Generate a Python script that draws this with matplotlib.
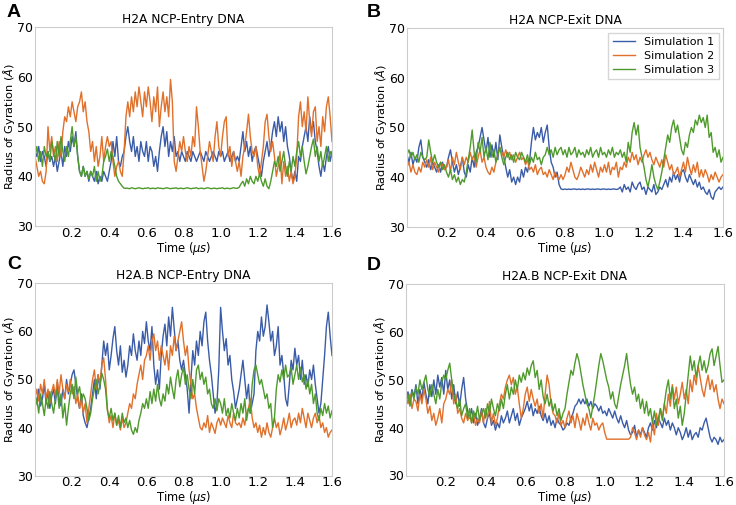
import numpy as np
import matplotlib
matplotlib.use("Agg")
import matplotlib.pyplot as plt

# Time axis (microseconds), sampled every 0.01 us
time_us = np.round(np.arange(161) * 0.01, 2)

# ---------------- Panel A: H2A NCP-Entry DNA ----------------
a_sim1 = [45, 44, 46, 43, 45, 44, 42, 45, 43, 44,
          42, 44, 41, 43, 45, 42, 46, 44, 47, 45,
          48, 46, 49, 44, 41, 40, 42, 40, 41, 39,
          41, 40, 39, 41, 38.5, 40, 39, 41, 40, 39,
          41, 43, 47, 44, 48, 43, 42, 44, 45, 48,
          50, 47, 45, 48, 44, 46, 43, 47, 45, 44,
          47, 43, 46, 45, 42, 44, 41, 45, 48, 50,
          46, 49, 44, 47, 45, 48, 44, 45, 43, 45,
          44, 43, 45, 44, 43, 45, 44, 43, 44, 45,
          44, 43, 45, 44, 43, 44, 45, 44, 43, 45,
          44, 45, 43, 44, 45, 43, 44, 45, 43, 44,
          43, 46, 49, 45, 47, 44, 46, 43, 45, 46,
          44, 42, 40, 43, 45, 47, 44, 46, 49, 51,
          48, 52, 49, 51, 47, 50, 46, 44, 41, 39,
          41, 39, 44, 43, 46, 48, 50, 47, 52, 49,
          51, 47, 45, 42, 40, 43, 41, 44, 46, 43,
          45]
a_sim2 = [44, 42, 40, 41, 39, 38.5, 41, 50, 45, 48,
          44, 46, 43, 47, 44, 49, 52, 51, 54, 52,
          55, 53, 51, 54, 55, 57, 53, 55, 51, 49,
          45, 47, 43, 46, 42, 44, 48, 43, 46, 48,
          46, 47, 43, 40, 42, 43, 41, 40, 45, 52,
          55, 52, 56, 53, 57, 54, 58, 55, 52, 57,
          54, 58, 55, 51, 56, 53, 58, 50, 54, 57,
          53, 56, 52, 59.5, 55, 43, 41, 44, 47, 45,
          48, 45, 43, 46, 44, 48, 46, 54, 50, 45,
          42, 39, 41, 44, 47, 45, 43, 48, 51, 46,
          44, 48, 51, 52, 44, 46, 42, 45, 43, 41,
          43, 40, 44, 46, 49, 52.5, 48, 45, 44, 46,
          42, 40, 43, 46, 51, 52.5, 48, 45, 47, 44,
          40, 42, 45, 38.5, 43, 40, 42, 39, 41, 38.5,
          40, 44, 52, 55, 50, 53, 49, 56, 51, 48,
          53, 54, 47, 50, 46, 52, 49, 54, 56, 52,
          47]
a_sim3 = [44, 46, 43, 45, 42, 46, 44, 45, 43, 47,
          45, 43, 47, 44, 48, 45, 43, 46, 44, 47,
          50, 46, 48, 44, 41, 40, 42, 40, 41, 39.5,
          41, 40, 42, 39, 41, 39, 40, 43, 44, 45.5,
          43, 45, 44, 42, 40, 39, 38.5, 38, 37.6, 37.6,
          37.6, 37.5, 37.7, 37.6, 37.5, 37.6, 37.7, 37.6, 37.5, 37.6,
          37.6, 37.7, 37.5, 37.6, 37.6, 37.5, 37.7, 37.6, 37.6, 37.5,
          37.6, 37.7, 37.6, 37.5, 37.6, 37.6, 37.7, 37.5, 37.6, 37.6,
          37.5, 37.6, 37.7, 37.6, 37.5, 37.6, 37.6, 37.7, 37.5, 37.6,
          37.6, 37.5, 37.6, 37.7, 37.6, 37.5, 37.6, 37.6, 37.5, 37.6,
          37.6, 37.7, 37.5, 37.6, 37.6, 37.5, 37.6, 37.7, 37.6, 37.6,
          37.8, 38.5, 39, 38, 39.5, 38.5, 40, 39, 38.5, 40,
          39, 40.5, 39, 38, 39.5, 38, 37.5, 39, 41, 43,
          42, 44, 41, 43, 45, 42, 40, 43, 41, 44,
          42, 45, 47, 44, 46, 43, 40.5, 42, 44, 46,
          47.5, 44, 46, 43, 45, 42, 44, 46, 43, 45,
          44]

# ---------------- Panel B: H2A NCP-Exit DNA ----------------
b_sim1 = [44.5, 43, 45, 42.5, 44, 43, 46, 47.5, 44, 43,
          42, 43.5, 41.5, 43, 42, 41, 42.5, 41, 43, 41.5,
          42, 44, 45.5, 43, 41, 42.5, 40.5, 42, 44, 41,
          40, 42.5, 41, 44, 42, 45, 46, 48, 50, 47.5,
          45, 48, 44, 46.5, 44, 47, 43.5, 48.5, 46, 44,
          42, 40, 41.5, 39, 40, 38.5, 40, 39, 41.5, 40,
          42, 41, 43, 47, 50, 47.5, 49, 48, 50, 47,
          49, 50.5, 46, 43, 42, 40, 41, 38.5, 37.6, 37.5,
          37.6, 37.5, 37.6, 37.5, 37.6, 37.6, 37.5, 37.6, 37.5, 37.6,
          37.5, 37.6, 37.6, 37.5, 37.6, 37.5, 37.6, 37.6, 37.5, 37.6,
          37.6, 37.5, 37.6, 37.5, 37.6, 37.6, 37.5, 37.6, 38, 37,
          38.5, 37.5, 38, 37, 39, 38, 37.5, 38.5, 39, 37.5,
          38, 36.5, 38, 37.5, 37, 38.5, 36.5, 37, 38, 37.5,
          38.5, 39.5, 38, 40, 39, 41, 39.5, 40.5, 39, 41,
          41.5, 40, 39, 40.5, 39.5, 38.5, 39.5, 38, 39, 37.5,
          38, 37, 36.5, 37.5, 36, 35.5, 37, 37.5, 38, 37.5,
          38]
b_sim2 = [42, 43, 41, 42.5, 41, 40.5, 42, 41, 43, 42,
          43.5, 42, 44, 41.5, 43, 42, 41, 43, 42.5, 41.5,
          42, 43.5, 41, 44, 42.5, 45, 43, 41.5, 44, 42.5,
          44, 43, 45, 43.5, 44.5, 42, 44, 45.5, 43, 44,
          42, 41, 40.5, 42, 41, 43, 44.5, 46, 45, 44,
          45.5, 44, 45, 43.5, 44.5, 43, 44, 45, 43.5, 44,
          42.5, 43.5, 41.5, 42, 41, 42.5, 40.5, 41.5, 42, 40.5,
          41, 40, 41.5, 40.5, 39.5, 41, 40, 39.5, 40.5, 39.5,
          40.5, 42, 41, 43, 41.5, 40, 39.5, 40.5, 42, 41,
          40, 41.5, 40.5, 42.5, 41, 43, 41.5, 40, 42, 41,
          42.5, 41, 43, 40.5, 42, 41.5, 43, 40, 42, 41.5,
          43, 42, 44, 43, 45, 43.5, 44.5, 42.5, 44, 43,
          44.5, 45.5, 44, 45, 43.5, 42.5, 44, 43, 42, 43.5,
          42, 44.5, 43, 41.5, 42.5, 40.5, 41, 42, 40, 41.5,
          43, 41, 44, 42, 40.5, 42.5, 41, 43, 40, 41.5,
          40, 41.5, 40.5, 39, 40.5, 39.5, 41, 40, 39, 40,
          40.5]
b_sim3 = [44.5, 45.5, 44, 45, 43.5, 44.5, 43, 45, 44, 43.5,
          44, 47.5, 45, 43, 44.5, 43, 42, 43, 41.5, 42.5,
          41, 40, 41.5, 39.5, 40.5, 39, 40, 38.5, 39.5, 39,
          41, 43.5, 46, 49.5, 45, 43, 47, 45, 48, 44,
          46, 43.5, 47, 44, 45.5, 43, 44.5, 46, 44, 42.5,
          44, 45, 43.5, 44.5, 43, 45, 44, 43.5, 45, 44,
          43, 44.5, 42.5, 44, 43, 45, 43.5, 44, 42.5, 44,
          44.5, 46, 44.5, 45.5, 44, 46, 44.5, 45.5, 46, 44.5,
          45.5, 44, 46, 44.5, 45, 46, 44, 45.5, 44.5, 45,
          44, 45.5, 44.5, 46, 44, 45, 45.5, 44, 46, 44.5,
          45, 44, 45.5, 44.5, 46, 44, 45, 44.5, 45.5, 44,
          45, 43, 47, 45, 49, 51, 48.5, 50.5, 46, 44,
          42, 39.5, 38, 40, 42.5, 40, 38.5, 37.5, 39, 41,
          43.5, 46, 48.5, 47, 50, 51.5, 49, 50.5, 48, 45.5,
          44.5, 47, 46, 48.5, 50, 49, 51.5, 50.5, 52.5, 51,
          52, 50, 52.5, 48, 49, 45, 46, 44, 45.5, 43,
          44]

# ---------------- Panel C: H2A.B NCP-Entry DNA ----------------
c_sim1 = [47, 45, 48, 44.5, 46, 49, 45, 47.5, 44, 46.5,
          48, 45, 49.5, 46, 44.5, 48, 46, 50, 47, 49,
          51, 52, 49, 46, 44, 47, 42.5, 41, 40, 42,
          44, 47, 50, 46, 51, 48, 53, 58, 55, 57.5,
          52, 55, 58.5, 61, 56, 53, 57, 51.5, 54, 50.5,
          53, 57, 55, 59.5, 56, 54, 58, 55, 60, 57.5,
          62, 58, 56, 61, 53, 49, 52, 48, 55, 59,
          61.5, 57, 63, 59, 65, 60.5, 56, 58, 54, 52,
          54, 51, 48, 43, 50, 56, 53, 58, 55, 60,
          57, 62, 64, 58, 54, 51, 47, 43, 45, 52,
          65, 60, 56, 58.5, 53, 55, 50, 47.5, 44, 46,
          48, 51, 54, 50, 46, 49, 43, 45, 47, 56,
          60, 58, 63, 59, 61, 65.5, 62, 58, 60, 55,
          57, 61, 53, 55, 51, 46, 44.5, 49, 54, 52,
          56.5, 53, 55, 50, 54, 49, 51, 48.5, 52, 50,
          53, 49, 46, 43, 45, 50, 55, 61, 64, 59,
          55]
c_sim2 = [46, 48, 45.5, 49, 47, 50, 46, 48, 45, 47.5,
          49, 46.5, 50, 47, 51, 48, 46, 49, 47.5, 50,
          47, 48.5, 45, 47, 44, 46, 43, 45, 41, 44,
          47, 50, 52, 48, 51, 49, 53, 54.5, 50, 44,
          41, 42.5, 40, 43, 40.5, 41.5, 39.5, 42, 40, 41,
          43, 45, 44, 47, 46, 49, 51, 53, 50, 54,
          55, 57, 54, 58, 59.5, 56, 58, 54, 57, 55,
          53, 56, 52, 57, 55, 59, 56, 58, 60, 62,
          58, 55, 57, 52, 49, 46, 47, 44, 42, 40,
          39.5, 41, 40, 42.5, 39, 41, 40, 38.8, 41, 42,
          40.5, 42, 41, 40, 42.5, 41, 40, 43, 41, 40.5,
          41, 40, 42, 40.5, 43, 44, 46, 42, 40, 41,
          39, 40.5, 38, 40, 38.5, 41, 39, 38, 40, 42,
          40, 41, 38.5, 40, 42, 39.5, 41, 43, 40, 41.5,
          42, 40.5, 43, 41, 44, 42, 40, 43, 41.5, 40,
          42, 43, 41, 42.5, 40, 41, 39, 40, 38, 39,
          39.5]
c_sim3 = [44, 46, 43, 47, 45, 42.5, 46, 44, 47.5, 45,
          43, 46, 48, 44, 47, 42, 45, 40.5, 44, 47,
          49, 46, 50.5, 47, 48.5, 45.5, 47, 46, 44, 41.5,
          43, 46, 48, 50, 47, 49, 51.3, 50, 48, 43.5,
          42, 44, 41.5, 43, 40.5, 42.5, 40, 43, 41, 42,
          40, 41.5, 39.5, 38.6, 40, 39, 41.5, 43, 45, 44,
          46, 44, 47.5, 45, 48, 45.5, 49, 46, 44.5, 47,
          45.5, 49, 47, 50.5, 48, 46, 50, 52, 48.5, 51,
          52.5, 49, 51, 48, 46, 50, 47, 52, 53, 50,
          51.5, 49, 50.5, 47, 48, 45, 44, 46, 43.5, 46,
          45, 43, 46, 42.5, 44, 42, 45, 43, 41.5, 44,
          42, 45, 43, 46, 41.5, 44, 43, 49, 52, 53,
          51, 49, 50, 48, 46, 47, 44, 45, 40, 42,
          48, 51, 49.5, 52, 50, 53, 50.5, 51, 52.5, 49,
          51, 53, 50, 52.5, 49.5, 51, 48, 50, 47, 49,
          45, 47, 43, 41.5, 44, 42.5, 45, 43, 44.5, 42,
          43.5]

# ---------------- Panel D: H2A.B NCP-Exit DNA ----------------
d_sim1 = [46, 47.5, 45.5, 48, 46.5, 49, 45, 48, 46, 49.5,
          47, 45, 49, 46.5, 50, 47, 51, 48.5, 50.5, 47,
          52, 48, 50, 46, 49, 45, 47.5, 44.5, 48, 50.5,
          46, 43.5, 42, 44, 41, 43, 40.5, 42, 44, 41,
          40, 42, 43, 40.5, 41.5, 39.5, 41, 40, 42.5, 41,
          42, 43.5, 41, 42.5, 44, 41.5, 43, 40.5, 42, 43,
          44, 45.5, 43.5, 45, 42.5, 44, 43, 44.5, 42.5, 41.5,
          43, 41, 42.5, 40.5, 41.5, 40, 42, 41, 40.5, 39.5,
          40, 41, 40.5, 42, 43, 44.5, 45, 46, 45, 46,
          45, 46, 44.5, 45.5, 44, 45, 44.5, 43.5, 44.5, 43,
          43.5, 42.5, 44, 43, 42, 43.5, 42, 41, 42.5, 41,
          40, 41.5, 39.5, 38.5, 39, 40.5, 38, 39.5, 38.5, 40,
          39, 38, 40, 41, 39.5, 41.5, 40, 42, 41, 40,
          42, 40.5, 41.5, 39.5, 41, 40, 38.5, 40, 39, 37.5,
          38.5, 40, 38, 39.5, 37.5, 38.5, 39, 38, 40, 39.5,
          41, 42, 40, 38, 37, 38, 37.5, 36.5, 38, 37,
          37.5]
d_sim2 = [46.5, 45, 47, 44, 46, 45.5, 43.5, 47, 45, 48,
          46, 43, 44.5, 41.5, 43, 40.5, 42, 44, 41, 45,
          46, 48, 47, 50, 45, 47, 43, 44, 42, 41,
          43, 41.5, 42.5, 41, 43, 40.5, 42, 41, 43.5, 41,
          44, 42, 45.5, 41, 43, 40.5, 42, 45, 47, 46,
          48.5, 50, 51, 49, 50.5, 47, 48.5, 45, 42, 44,
          47, 48.5, 45.5, 48, 46, 44.5, 46, 43, 45, 42,
          47, 51, 49, 45, 43, 42.5, 41, 43, 40.5, 41.5,
          40, 42, 43.5, 41, 42.5, 40, 43, 41.5, 39.5, 42,
          40.5, 43, 41, 39.5, 42, 40.5, 41, 39.5, 40.5, 41,
          39, 37.6, 37.6, 37.6, 37.6, 37.6, 37.6, 37.6, 37.6, 37.6,
          37.6, 37.6, 37.6, 38, 40, 39, 37.5, 39.5, 38, 40,
          38.5, 37.5, 39, 37, 41, 38.5, 43, 40.5, 44, 42,
          45, 43, 47, 44.5, 49, 46, 48.5, 45, 47, 49.5,
          46, 48, 45, 50, 47.5, 51, 49, 53, 50.5, 48,
          46.5, 49, 51, 48, 50, 47.5, 49, 46, 44, 46,
          45]
d_sim3 = [45, 47, 44.5, 47.5, 46, 48.5, 47, 50, 48, 49.5,
          51, 48, 46.5, 49, 47, 45, 48, 46, 49.5, 51,
          50, 52, 53.5, 50, 47, 45.5, 44, 46, 42.5, 44,
          45, 42, 44, 41, 43.5, 42, 44.5, 41.5, 43, 44,
          42, 45, 43, 46, 44, 42.5, 45, 43.5, 46, 44,
          47, 49, 46, 48.5, 47, 50, 48, 51, 49.5, 51.5,
          50, 52.5, 51, 53, 54, 50.5, 52, 48, 50, 46.5,
          45, 47, 44.5, 46, 43.5, 45, 42.5, 44, 41.5, 43,
          44, 47, 49.5, 52, 51, 53.5, 55.5, 54, 51.5, 49,
          47, 45, 44, 42, 44.5, 47, 50, 53, 55.5, 54,
          52, 50, 48.5, 46, 47.5, 45, 44, 46.5, 49, 51,
          53, 55.5, 52, 49, 47, 48.5, 45.5, 47, 44, 46,
          43, 45.5, 42.5, 44, 41, 43.5, 40.5, 42, 44, 41.5,
          45, 48, 50, 46, 48.5, 44, 46, 42, 44.5, 40.5,
          43, 47, 51, 55, 52, 54, 50.5, 53, 55, 52,
          54, 51.5, 53, 55.5, 56.5, 53, 55, 57, 53, 49.5,
          50]

titles = ["H2A NCP-Entry DNA", "H2A NCP-Exit DNA",
          "H2A.B NCP-Entry DNA", "H2A.B NCP-Exit DNA"]
panel_letters = ["A", "B", "C", "D"]
series_labels = ["Simulation 1", "Simulation 2", "Simulation 3"]
x_ticks = [0.2, 0.4, 0.6, 0.8, 1.0, 1.2, 1.4, 1.6]
y_ticks = [30, 40, 50, 60, 70]

panel_data = [
    (a_sim1, a_sim2, a_sim3),
    (b_sim1, b_sim2, b_sim3),
    (c_sim1, c_sim2, c_sim3),
    (d_sim1, d_sim2, d_sim3),
]
colors = ["#3a5ca8", "#e0702a", "#4f9a2c"]

W, H = 736, 505
# axes boxes in pixels: left, top, right, bottom
boxes = [(35, 27.3, 332, 226),
         (407, 28.3, 723, 226.7),
         (35, 283.3, 332, 475.7),
         (406, 284.3, 724, 475.5)]
letter_pos = [(7, 4), (367, 4), (7, 256), (367, 257)]

fig = plt.figure(figsize=(W / 100, H / 100), dpi=100)
for i, (l, t, r, b) in enumerate(boxes):
    ax = fig.add_axes([l / W, 1 - b / H, (r - l) / W, (b - t) / H])
    for s, c, lab in zip(panel_data[i], colors, series_labels):
        ax.plot(time_us, s, color=c, lw=1.0, label=lab)
    ax.set_xlim(0, 1.6)
    ax.set_ylim(30, 70)
    ax.set_xticks(x_ticks)
    ax.set_xticklabels([f"{v:.1f}" for v in x_ticks])
    ax.set_yticks(y_ticks)
    ax.tick_params(axis="x", length=0, labelsize=9.5, pad=0.5)
    ax.tick_params(axis="y", length=0, labelsize=9, pad=1.5)
    for sp in ax.spines.values():
        sp.set_color("#cccccc")
        sp.set_linewidth(0.8)
    ax.set_title(titles[i], fontsize=8.8, pad=3)
    ax.set_xlabel(r"Time ($\mu s$)", fontsize=8.3, labelpad=0)
    ax.set_ylabel(r"Radius of Gyration ($\AA$)", fontsize=8.2, labelpad=0)
    if i == 1:
        ax.legend(loc="upper right", fontsize=8, frameon=True,
                  fancybox=False, edgecolor="#cccccc",
                  labelspacing=0.35, handlelength=2.0,
                  borderaxespad=0.4)
    lx, ly = letter_pos[i]
    fig.text(lx / W, 1 - ly / H, panel_letters[i], fontsize=14,
             fontweight="bold", va="top", ha="left",
             family=["Liberation Sans", "DejaVu Sans"])

fig.savefig("out.png", dpi=100)
